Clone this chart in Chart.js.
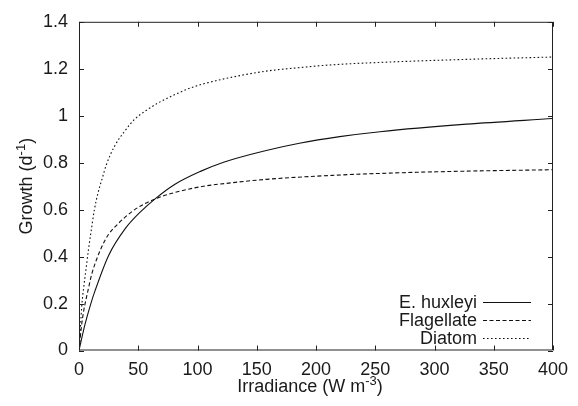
<!DOCTYPE html>
<html>
<head>
<meta charset="utf-8">
<script src="https://cdn.jsdelivr.net/npm/chart.js@4/dist/chart.umd.min.js"></script>
<style>
  html, body { margin: 0; padding: 0; background: #fff; }
  #wrap { width: 578px; height: 406px; position: relative; }
</style>
</head>
<body>
<div id="wrap"><canvas id="c" width="578" height="406"></canvas></div>
<script>
// ---- Data ----
const seriesNames = ["E. huxleyi", "Flagellate", "Diatom"];

const huxleyiX = [0, 5, 10, 13.5, 25, 39, 53, 64, 81, 103, 122, 158, 186, 220, 254, 327, 400];
const huxleyiY = [0, 0.11, 0.2, 0.254, 0.405, 0.519, 0.596, 0.645, 0.708, 0.764, 0.802, 0.852, 0.883, 0.911, 0.932, 0.964, 0.988];

const flagellateX = [0, 2, 4, 6, 8, 11, 15, 20, 25, 33, 47, 64, 81, 102, 130, 158, 214, 271, 327, 400];
const flagellateY = [0, 0.1, 0.17, 0.22, 0.265, 0.33, 0.39, 0.45, 0.495, 0.54, 0.6, 0.645, 0.673, 0.697, 0.715, 0.729, 0.746, 0.757, 0.764, 0.77];

const diatomX = [0, 1, 2.5, 4, 6, 8, 10, 13, 16, 20, 23, 30, 39, 47, 56, 67, 81, 95, 106, 130, 158, 186, 214, 254, 327, 400];
const diatomY = [0, 0.08, 0.2, 0.27, 0.35, 0.43, 0.5, 0.6, 0.67, 0.74, 0.79, 0.87, 0.937, 0.985, 1.02, 1.055, 1.09, 1.12, 1.137, 1.165, 1.19, 1.205, 1.217, 1.227, 1.24, 1.25];

const xTicks = [0, 50, 100, 150, 200, 250, 300, 350, 400];
const yTicks = [0, 0.2, 0.4, 0.6, 0.8, 1, 1.2, 1.4];
const yTickLabels = ["0", "0.2", "0.4", "0.6", "0.8", "1", "1.2", "1.4"];

const xTitle = ["Irradiance (W m", "-3", ")"];
const yTitle = ["Growth (d", "-1", ")"];

function pts(xs, ys) { return xs.map((x, i) => ({ x: x, y: ys[i] })); }

const FONT = "Liberation Sans, Arial, Helvetica, sans-serif";
const FS = 18;
const TXT = "#1a1a1a";

const framePlugin = {
  id: "frame",
  afterDraw(chart) {
    const ctx = chart.ctx;
    const a = chart.chartArea;
    const xs = chart.scales.x, ys = chart.scales.y;
    ctx.save();
    ctx.strokeStyle = "#222";
    ctx.lineWidth = 1;
    ctx.beginPath();
    ctx.rect(a.left + 0.5, a.top + 0.5, a.right - a.left - 1, a.bottom - a.top - 1);
    ctx.stroke();
    const tl = 5;
    ctx.beginPath();
    xTicks.forEach(v => {
      const p = Math.round(xs.getPixelForValue(v)) + 0.5;
      ctx.moveTo(p, a.bottom); ctx.lineTo(p, a.bottom - tl);
      ctx.moveTo(p, a.top); ctx.lineTo(p, a.top + tl);
    });
    yTicks.forEach(v => {
      const p = Math.round(ys.getPixelForValue(v)) + 0.5;
      ctx.moveTo(a.left, p); ctx.lineTo(a.left + tl, p);
      ctx.moveTo(a.right, p); ctx.lineTo(a.right - tl, p);
    });
    ctx.stroke();

    // legend
    ctx.font = FS + "px " + FONT;
    ctx.fillStyle = TXT;
    ctx.textAlign = "right";
    ctx.textBaseline = "middle";
    chart.data.datasets.forEach((ds, i) => {
      const yy = a.bottom - 48.5 + i * 18.2;
      ctx.fillText(ds.label, a.right - 76, yy + 1);
      ctx.save();
      ctx.strokeStyle = ds.borderColor;
      ctx.lineWidth = ds.borderWidth;
      ctx.setLineDash(ds.borderDash || []);
      ctx.beginPath();
      ctx.moveTo(a.right - 70, Math.round(yy) + 0.5);
      ctx.lineTo(a.right - 22, Math.round(yy) + 0.5);
      ctx.stroke();
      ctx.restore();
    });

    // axis titles with superscripts
    function drawSup(parts, cx, cy) {
      ctx.font = FS + "px " + FONT;
      const w0 = ctx.measureText(parts[0]).width;
      const w2 = ctx.measureText(parts[2]).width;
      ctx.font = "13px " + FONT;
      const w1 = ctx.measureText(parts[1]).width;
      const total = w0 + w1 + w2;
      let x = cx - total / 2;
      ctx.textAlign = "left";
      ctx.textBaseline = "alphabetic";
      ctx.font = FS + "px " + FONT;
      ctx.fillText(parts[0], x, cy); x += w0;
      ctx.font = "13px " + FONT;
      ctx.fillText(parts[1], x, cy - 7); x += w1;
      ctx.font = FS + "px " + FONT;
      ctx.fillText(parts[2], x, cy);
    }
    ctx.fillStyle = TXT;
    drawSup(xTitle, (a.left + a.right) / 2 - 6, 392);
    ctx.save();
    ctx.translate(32, (a.top + a.bottom) / 2);
    ctx.rotate(-Math.PI / 2);
    drawSup(yTitle, 0, 0);
    ctx.restore();
    ctx.restore();
  }
};

new Chart(document.getElementById("c"), {
  type: "line",
  data: {
    datasets: [
      { label: seriesNames[0], data: pts(huxleyiX, huxleyiY), borderColor: "#111", borderWidth: 1.1, borderDash: [] },
      { label: seriesNames[1], data: pts(flagellateX, flagellateY), borderColor: "#111", borderWidth: 1.1, borderDash: [4, 2.5] },
      { label: seriesNames[2], data: pts(diatomX, diatomY), borderColor: "#111", borderWidth: 1.1, borderDash: [1.6, 2.4] }
    ]
  },
  options: {
    responsive: false,
    animation: false,
    devicePixelRatio: 1,
    layout: { padding: { top: 17, right: 25, left: 0, bottom: 0 } },
    elements: { point: { radius: 0 }, line: { cubicInterpolationMode: "monotone", fill: false } },
    plugins: { legend: { display: false }, tooltip: { enabled: false } },
    scales: {
      x: {
        type: "linear", min: 0, max: 400,
        grid: { display: false, drawTicks: false },
        border: { display: false },
        afterBuildTicks: s => { s.ticks = xTicks.map(v => ({ value: v })); },
        afterFit: s => { s.height = 55.5; },
        ticks: { padding: 9, color: TXT, font: { family: FONT, size: FS }, maxRotation: 0 }
      },
      y: {
        type: "linear", min: 0, max: 1.4,
        grid: { display: false, drawTicks: false },
        border: { display: false },
        afterBuildTicks: s => { s.ticks = yTicks.map(v => ({ value: v })); },
        afterFit: s => { s.width = 79; },
        ticks: { padding: 11, color: TXT, font: { family: FONT, size: FS },
          callback: (v) => yTickLabels[yTicks.indexOf(v)] }
      }
    }
  },
  plugins: [framePlugin]
});
</script>
</body>
</html>
